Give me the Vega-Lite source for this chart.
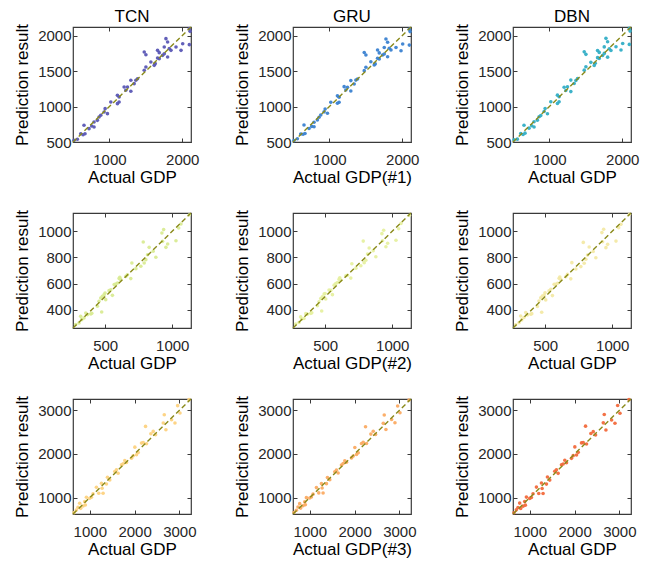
{
"$schema": "https://vega.github.io/schema/vega-lite/v6.json",
"padding": {"left": 13, "top": 6, "right": 5, "bottom": 5},
"config": {
 "view": {"stroke": "#3a3a3a", "strokeWidth": 1.2},
 "font": "Liberation Sans",
 "axis": {"domain": false, "grid": false, "format": "d", "labelFont": "Liberation Sans", "labelFontSize": 15, "labelColor": "#262626", "titleFont": "Liberation Sans", "titleFontSize": 17, "titleFontWeight": "normal", "titleColor": "#000000", "tickColor": "#3a3a3a", "tickSize": -4, "labelPadding": 6, "titlePadding": 2},
 "axisX": {"labelPadding": 14},
 "axisY": {"labelPadding": 6, "titlePadding": 6},
 "title": {"font": "Liberation Sans", "fontSize": 17, "fontWeight": "normal", "color": "#000000", "offset": -2},
 "line": {"strokeDash": [5, 3], "color": "#8a8a1a", "strokeWidth": 1.4},
 "circle": {"size": 13, "opacity": 0.95}
},
"datasets": {
 "r1": [
  {"a":514,"tcn":523,"gru":520,"dbn":530},{"a":560,"tcn":538,"gru":545,"dbn":540},{"a":606,"tcn":617,"gru":612,"dbn":620},{"a":638,"tcn":603,"gru":610,"dbn":605},{"a":651,"tcn":735,"gru":740,"dbn":735},{"a":665,"tcn":617,"gru":620,"dbn":625},{"a":720,"tcn":688,"gru":690,"dbn":695},{"a":757,"tcn":725,"gru":720,"dbn":728},{"a":789,"tcn":711,"gru":715,"dbn":712},{"a":789,"tcn":782,"gru":778,"dbn":785},{"a":835,"tcn":805,"gru":810,"dbn":808},{"a":858,"tcn":852,"gru":848,"dbn":855},{"a":881,"tcn":876,"gru":880,"dbn":872},{"a":927,"tcn":923,"gru":925,"dbn":930},{"a":941,"tcn":970,"gru":965,"dbn":972},{"a":973,"tcn":899,"gru":905,"dbn":898},{"a":1019,"tcn":1064,"gru":1060,"dbn":1066},{"a":1110,"tcn":1040,"gru":1045,"dbn":1042},{"a":1133,"tcn":1064,"gru":1060,"dbn":1068},{"a":1110,"tcn":1157,"gru":1150,"dbn":1160},{"a":1133,"tcn":1134,"gru":1130,"dbn":1138},{"a":1202,"tcn":1275,"gru":1280,"dbn":1272},{"a":1248,"tcn":1275,"gru":1270,"dbn":1278},{"a":1225,"tcn":1228,"gru":1232,"dbn":1226},{"a":1294,"tcn":1214,"gru":1218,"dbn":1210},{"a":1294,"tcn":1369,"gru":1365,"dbn":1372},{"a":1340,"tcn":1322,"gru":1318,"dbn":1325},{"a":1363,"tcn":1369,"gru":1372,"dbn":1366},{"a":1386,"tcn":1392,"gru":1388,"dbn":1395},{"a":1478,"tcn":1510,"gru":1505,"dbn":1512},{"a":1501,"tcn":1557,"gru":1552,"dbn":1560},{"a":1478,"tcn":1768,"gru":1760,"dbn":1770},{"a":1501,"tcn":1730,"gru":1725,"dbn":1735},{"a":1569,"tcn":1627,"gru":1630,"dbn":1622},{"a":1615,"tcn":1580,"gru":1585,"dbn":1578},{"a":1629,"tcn":1604,"gru":1600,"dbn":1608},{"a":1661,"tcn":1683,"gru":1680,"dbn":1688},{"a":1684,"tcn":1674,"gru":1670,"dbn":1676},{"a":1661,"tcn":1791,"gru":1795,"dbn":1788},{"a":1684,"tcn":1759,"gru":1755,"dbn":1762},{"a":1730,"tcn":1721,"gru":1725,"dbn":1718},{"a":1753,"tcn":1838,"gru":1832,"dbn":1840},{"a":1753,"tcn":1744,"gru":1740,"dbn":1748},{"a":1776,"tcn":1956,"gru":1950,"dbn":1960},{"a":1799,"tcn":1909,"gru":1905,"dbn":1912},{"a":1822,"tcn":1815,"gru":1820,"dbn":1812},{"a":1799,"tcn":1697,"gru":1700,"dbn":1695},{"a":1845,"tcn":1791,"gru":1795,"dbn":1788},{"a":1914,"tcn":1838,"gru":1832,"dbn":1842},{"a":1983,"tcn":1791,"gru":1785,"dbn":1795},{"a":2006,"tcn":1885,"gru":1880,"dbn":1888},{"a":2097,"tcn":2097,"gru":2090,"dbn":2100},{"a":2097,"tcn":1871,"gru":1865,"dbn":1875},{"a":2107,"tcn":2059,"gru":2055,"dbn":2062}
 ],
 "r2": [
  {"a":280,"tcn":286,"gru":290,"dbn":284},{"a":305,"tcn":298,"gru":302,"dbn":300},{"a":317,"tcn":349,"gru":345,"dbn":352},{"a":325,"tcn":324,"gru":328,"dbn":322},{"a":342,"tcn":337,"gru":333,"dbn":340},{"a":355,"tcn":375,"gru":370,"dbn":378},{"a":367,"tcn":362,"gru":366,"dbn":360},{"a":392,"tcn":367,"gru":372,"dbn":365},{"a":400,"tcn":372,"gru":376,"dbn":370},{"a":442,"tcn":426,"gru":430,"dbn":424},{"a":454,"tcn":464,"gru":460,"dbn":466},{"a":467,"tcn":490,"gru":486,"dbn":492},{"a":474,"tcn":382,"gru":390,"dbn":380},{"a":479,"tcn":502,"gru":498,"dbn":505},{"a":492,"tcn":515,"gru":520,"dbn":512},{"a":499,"tcn":528,"gru":524,"dbn":530},{"a":504,"tcn":477,"gru":482,"dbn":475},{"a":529,"tcn":546,"gru":550,"dbn":544},{"a":542,"tcn":553,"gru":548,"dbn":556},{"a":554,"tcn":510,"gru":515,"dbn":508},{"a":567,"tcn":592,"gru":588,"dbn":594},{"a":579,"tcn":597,"gru":600,"dbn":595},{"a":592,"tcn":604,"gru":608,"dbn":602},{"a":604,"tcn":638,"gru":634,"dbn":640},{"a":609,"tcn":648,"gru":645,"dbn":650},{"a":616,"tcn":630,"gru":626,"dbn":632},{"a":654,"tcn":655,"gru":660,"dbn":652},{"a":666,"tcn":668,"gru":664,"dbn":670},{"a":691,"tcn":638,"gru":642,"dbn":636},{"a":699,"tcn":757,"gru":752,"dbn":760},{"a":729,"tcn":714,"gru":718,"dbn":712},{"a":766,"tcn":732,"gru":736,"dbn":730},{"a":784,"tcn":918,"gru":925,"dbn":915},{"a":791,"tcn":757,"gru":760,"dbn":755},{"a":803,"tcn":783,"gru":778,"dbn":786},{"a":816,"tcn":821,"gru":826,"dbn":818},{"a":828,"tcn":877,"gru":872,"dbn":880},{"a":858,"tcn":847,"gru":852,"dbn":845},{"a":878,"tcn":801,"gru":805,"dbn":798},{"a":923,"tcn":987,"gru":982,"dbn":990},{"a":936,"tcn":1013,"gru":1008,"dbn":1016},{"a":928,"tcn":923,"gru":928,"dbn":920},{"a":953,"tcn":877,"gru":882,"dbn":875},{"a":966,"tcn":903,"gru":908,"dbn":900},{"a":1028,"tcn":928,"gru":932,"dbn":925},{"a":1048,"tcn":1025,"gru":1020,"dbn":1028},{"a":1065,"tcn":1056,"gru":1060,"dbn":1053},{"a":1128,"tcn":1127,"gru":1122,"dbn":1130}
 ],
 "r3": [
  {"a":647,"tcn":656,"gru":660,"dbn":652},{"a":700,"tcn":717,"gru":712,"dbn":720},{"a":737,"tcn":778,"gru":784,"dbn":775},{"a":774,"tcn":870,"gru":862,"dbn":875},{"a":797,"tcn":755,"gru":760,"dbn":752},{"a":849,"tcn":809,"gru":815,"dbn":805},{"a":886,"tcn":908,"gru":902,"dbn":912},{"a":924,"tcn":1008,"gru":1000,"dbn":1012},{"a":901,"tcn":832,"gru":838,"dbn":828},{"a":998,"tcn":985,"gru":990,"dbn":982},{"a":1036,"tcn":1008,"gru":1014,"dbn":1004},{"a":1073,"tcn":1085,"gru":1080,"dbn":1090},{"a":1148,"tcn":1238,"gru":1230,"dbn":1242},{"a":1200,"tcn":1100,"gru":1108,"dbn":1096},{"a":1260,"tcn":1330,"gru":1322,"dbn":1335},{"a":1297,"tcn":1100,"gru":1106,"dbn":1095},{"a":1275,"tcn":1215,"gru":1220,"dbn":1210},{"a":1372,"tcn":1314,"gru":1320,"dbn":1310},{"a":1394,"tcn":1468,"gru":1460,"dbn":1472},{"a":1446,"tcn":1406,"gru":1412,"dbn":1402},{"a":1558,"tcn":1598,"gru":1592,"dbn":1602},{"a":1595,"tcn":1636,"gru":1630,"dbn":1640},{"a":1633,"tcn":1560,"gru":1566,"dbn":1556},{"a":1707,"tcn":1751,"gru":1745,"dbn":1755},{"a":1745,"tcn":1774,"gru":1780,"dbn":1770},{"a":1782,"tcn":1851,"gru":1845,"dbn":1856},{"a":1820,"tcn":1805,"gru":1810,"dbn":1800},{"a":1931,"tcn":1904,"gru":1910,"dbn":1900},{"a":1969,"tcn":1958,"gru":1952,"dbn":1962},{"a":2006,"tcn":2157,"gru":2150,"dbn":2162},{"a":2043,"tcn":1981,"gru":1988,"dbn":1976},{"a":2081,"tcn":2034,"gru":2028,"dbn":2038},{"a":2155,"tcn":2249,"gru":2242,"dbn":2254},{"a":2193,"tcn":2264,"gru":2270,"dbn":2260},{"a":2245,"tcn":2632,"gru":2625,"dbn":2638},{"a":2267,"tcn":2234,"gru":2240,"dbn":2230},{"a":2364,"tcn":2463,"gru":2456,"dbn":2468},{"a":2417,"tcn":2517,"gru":2522,"dbn":2512},{"a":2469,"tcn":2440,"gru":2446,"dbn":2436},{"a":2641,"tcn":2709,"gru":2702,"dbn":2714},{"a":2663,"tcn":2900,"gru":2892,"dbn":2905},{"a":2700,"tcn":2555,"gru":2562,"dbn":2550},{"a":2827,"tcn":2785,"gru":2790,"dbn":2780},{"a":2902,"tcn":2709,"gru":2715,"dbn":2704},{"a":2962,"tcn":3107,"gru":3100,"dbn":3112},{"a":3014,"tcn":2938,"gru":2944,"dbn":2934},{"a":3215,"tcn":3245,"gru":3238,"dbn":3250}
 ],
 "d1": [{"v":500},{"v":2120}],
 "d2": [{"v":260},{"v":1140}],
 "d3": [{"v":625},{"v":3260}]
},
"columns": 3,
"spacing": {"column": 33, "row": 22},
"concat": [
 {"width":118,"height":115,"title":"TCN","resolve":{"axis":{"x":"independent","y":"independent"}},"layer":[
  {"data":{"name":"r1"},"mark":{"type":"circle","color":"#5a57b5"},"encoding":{
   "x":{"field":"a","type":"quantitative","scale":{"domain":[500,2120],"nice":false,"zero":false},"axis":{"title":"Actual GDP","values":[1000,2000]}},
   "y":{"field":"tcn","type":"quantitative","scale":{"domain":[500,2120],"nice":false,"zero":false},"axis":{"title":"Prediction result","values":[500,1000,1500,2000]}}}},
  {"data":{"name":"d1"},"mark":{"type":"line"},"encoding":{
   "x":{"field":"v","type":"quantitative","scale":{"domain":[500,2120],"nice":false,"zero":false},"axis":{"orient":"top","labels":false,"title":null,"values":[1000,2000]}},
   "y":{"field":"v","type":"quantitative","scale":{"domain":[500,2120],"nice":false,"zero":false},"axis":{"orient":"right","labels":false,"title":null,"values":[500,1000,1500,2000]}}}}
 ]},
 {"width":118,"height":115,"title":"GRU","resolve":{"axis":{"x":"independent","y":"independent"}},"layer":[
  {"data":{"name":"r1"},"mark":{"type":"circle","color":"#3b82d1"},"encoding":{
   "x":{"field":"a","type":"quantitative","scale":{"domain":[500,2120],"nice":false,"zero":false},"axis":{"title":"Actual GDP(#1)","values":[1000,2000]}},
   "y":{"field":"gru","type":"quantitative","scale":{"domain":[500,2120],"nice":false,"zero":false},"axis":{"title":"Prediction result","values":[500,1000,1500,2000]}}}},
  {"data":{"name":"d1"},"mark":{"type":"line"},"encoding":{
   "x":{"field":"v","type":"quantitative","scale":{"domain":[500,2120],"nice":false,"zero":false},"axis":{"orient":"top","labels":false,"title":null,"values":[1000,2000]}},
   "y":{"field":"v","type":"quantitative","scale":{"domain":[500,2120],"nice":false,"zero":false},"axis":{"orient":"right","labels":false,"title":null,"values":[500,1000,1500,2000]}}}}
 ]},
 {"width":118,"height":115,"title":"DBN","resolve":{"axis":{"x":"independent","y":"independent"}},"layer":[
  {"data":{"name":"r1"},"mark":{"type":"circle","color":"#33aec6"},"encoding":{
   "x":{"field":"a","type":"quantitative","scale":{"domain":[500,2120],"nice":false,"zero":false},"axis":{"title":"Actual GDP","values":[1000,2000]}},
   "y":{"field":"dbn","type":"quantitative","scale":{"domain":[500,2120],"nice":false,"zero":false},"axis":{"title":"Prediction result","values":[500,1000,1500,2000]}}}},
  {"data":{"name":"d1"},"mark":{"type":"line"},"encoding":{
   "x":{"field":"v","type":"quantitative","scale":{"domain":[500,2120],"nice":false,"zero":false},"axis":{"orient":"top","labels":false,"title":null,"values":[1000,2000]}},
   "y":{"field":"v","type":"quantitative","scale":{"domain":[500,2120],"nice":false,"zero":false},"axis":{"orient":"right","labels":false,"title":null,"values":[500,1000,1500,2000]}}}}
 ]},
 {"width":118,"height":115,"resolve":{"axis":{"x":"independent","y":"independent"}},"layer":[
  {"data":{"name":"r2"},"mark":{"type":"circle","color":"#d9eb93"},"encoding":{
   "x":{"field":"a","type":"quantitative","scale":{"domain":[260,1140],"nice":false,"zero":false},"axis":{"title":"Actual GDP","values":[500,1000]}},
   "y":{"field":"tcn","type":"quantitative","scale":{"domain":[260,1140],"nice":false,"zero":false},"axis":{"title":"Prediction result","values":[400,600,800,1000]}}}},
  {"data":{"name":"d2"},"mark":{"type":"line"},"encoding":{
   "x":{"field":"v","type":"quantitative","scale":{"domain":[260,1140],"nice":false,"zero":false},"axis":{"orient":"top","labels":false,"title":null,"values":[500,1000]}},
   "y":{"field":"v","type":"quantitative","scale":{"domain":[260,1140],"nice":false,"zero":false},"axis":{"orient":"right","labels":false,"title":null,"values":[400,600,800,1000]}}}}
 ]},
 {"width":118,"height":115,"resolve":{"axis":{"x":"independent","y":"independent"}},"layer":[
  {"data":{"name":"r2"},"mark":{"type":"circle","color":"#e6f0a0"},"encoding":{
   "x":{"field":"a","type":"quantitative","scale":{"domain":[260,1140],"nice":false,"zero":false},"axis":{"title":"Actual GDP(#2)","values":[500,1000]}},
   "y":{"field":"gru","type":"quantitative","scale":{"domain":[260,1140],"nice":false,"zero":false},"axis":{"title":"Prediction result","values":[400,600,800,1000]}}}},
  {"data":{"name":"d2"},"mark":{"type":"line"},"encoding":{
   "x":{"field":"v","type":"quantitative","scale":{"domain":[260,1140],"nice":false,"zero":false},"axis":{"orient":"top","labels":false,"title":null,"values":[500,1000]}},
   "y":{"field":"v","type":"quantitative","scale":{"domain":[260,1140],"nice":false,"zero":false},"axis":{"orient":"right","labels":false,"title":null,"values":[400,600,800,1000]}}}}
 ]},
 {"width":118,"height":115,"resolve":{"axis":{"x":"independent","y":"independent"}},"layer":[
  {"data":{"name":"r2"},"mark":{"type":"circle","color":"#f3e9a5"},"encoding":{
   "x":{"field":"a","type":"quantitative","scale":{"domain":[260,1140],"nice":false,"zero":false},"axis":{"title":"Actual GDP","values":[500,1000]}},
   "y":{"field":"dbn","type":"quantitative","scale":{"domain":[260,1140],"nice":false,"zero":false},"axis":{"title":"Prediction result","values":[400,600,800,1000]}}}},
  {"data":{"name":"d2"},"mark":{"type":"line"},"encoding":{
   "x":{"field":"v","type":"quantitative","scale":{"domain":[260,1140],"nice":false,"zero":false},"axis":{"orient":"top","labels":false,"title":null,"values":[500,1000]}},
   "y":{"field":"v","type":"quantitative","scale":{"domain":[260,1140],"nice":false,"zero":false},"axis":{"orient":"right","labels":false,"title":null,"values":[400,600,800,1000]}}}}
 ]},
 {"width":118,"height":115,"resolve":{"axis":{"x":"independent","y":"independent"}},"layer":[
  {"data":{"name":"r3"},"mark":{"type":"circle","color":"#fdd27f"},"encoding":{
   "x":{"field":"a","type":"quantitative","scale":{"domain":[625,3260],"nice":false,"zero":false},"axis":{"title":"Actual GDP","values":[1000,2000,3000]}},
   "y":{"field":"tcn","type":"quantitative","scale":{"domain":[625,3260],"nice":false,"zero":false},"axis":{"title":"Prediction result","values":[1000,2000,3000]}}}},
  {"data":{"name":"d3"},"mark":{"type":"line"},"encoding":{
   "x":{"field":"v","type":"quantitative","scale":{"domain":[625,3260],"nice":false,"zero":false},"axis":{"orient":"top","labels":false,"title":null,"values":[1000,2000,3000]}},
   "y":{"field":"v","type":"quantitative","scale":{"domain":[625,3260],"nice":false,"zero":false},"axis":{"orient":"right","labels":false,"title":null,"values":[1000,2000,3000]}}}}
 ]},
 {"width":118,"height":115,"resolve":{"axis":{"x":"independent","y":"independent"}},"layer":[
  {"data":{"name":"r3"},"mark":{"type":"circle","color":"#fbab63"},"encoding":{
   "x":{"field":"a","type":"quantitative","scale":{"domain":[625,3260],"nice":false,"zero":false},"axis":{"title":"Actual GDP(#3)","values":[1000,2000,3000]}},
   "y":{"field":"gru","type":"quantitative","scale":{"domain":[625,3260],"nice":false,"zero":false},"axis":{"title":"Prediction result","values":[1000,2000,3000]}}}},
  {"data":{"name":"d3"},"mark":{"type":"line"},"encoding":{
   "x":{"field":"v","type":"quantitative","scale":{"domain":[625,3260],"nice":false,"zero":false},"axis":{"orient":"top","labels":false,"title":null,"values":[1000,2000,3000]}},
   "y":{"field":"v","type":"quantitative","scale":{"domain":[625,3260],"nice":false,"zero":false},"axis":{"orient":"right","labels":false,"title":null,"values":[1000,2000,3000]}}}}
 ]},
 {"width":118,"height":115,"resolve":{"axis":{"x":"independent","y":"independent"}},"layer":[
  {"data":{"name":"r3"},"mark":{"type":"circle","color":"#f26a3c"},"encoding":{
   "x":{"field":"a","type":"quantitative","scale":{"domain":[625,3260],"nice":false,"zero":false},"axis":{"title":"Actual GDP","values":[1000,2000,3000]}},
   "y":{"field":"dbn","type":"quantitative","scale":{"domain":[625,3260],"nice":false,"zero":false},"axis":{"title":"Prediction result","values":[1000,2000,3000]}}}},
  {"data":{"name":"d3"},"mark":{"type":"line"},"encoding":{
   "x":{"field":"v","type":"quantitative","scale":{"domain":[625,3260],"nice":false,"zero":false},"axis":{"orient":"top","labels":false,"title":null,"values":[1000,2000,3000]}},
   "y":{"field":"v","type":"quantitative","scale":{"domain":[625,3260],"nice":false,"zero":false},"axis":{"orient":"right","labels":false,"title":null,"values":[1000,2000,3000]}}}}
 ]}
]
}
